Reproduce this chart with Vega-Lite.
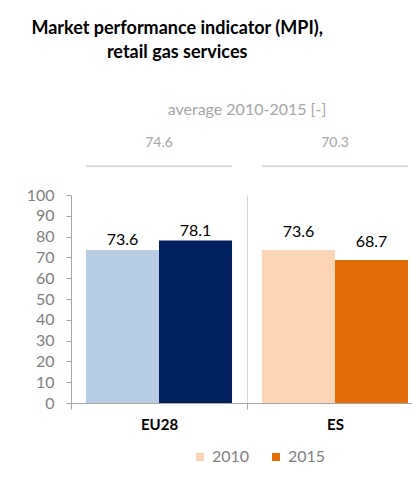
{
  "$schema": "https://vega.github.io/schema/vega-lite/v6.json",
  "background": "white",
  "padding": {"left": 26, "top": 20, "right": 0, "bottom": 5},
  "title": {
    "text": ["Market performance indicator (MPI),", "retail gas services"],
    "font": "Lato", "fontSize": 18, "fontWeight": "bold", "color": "#000000",
    "anchor": "start", "align": "center", "dx": 151, "lineHeight": 24, "offset": 40
  },
  "spacing": 18,
  "vconcat": [
    {
      "width": 352,
      "height": 40,
      "title": {"text": "average 2010-2015 [-]", "color": "#a6a6a6", "fontSize": 16, "fontWeight": "normal", "font": "Lato", "anchor": "middle", "offset": 11},
      "data": {"values": [
        {"country": "EU28", "avg": 74.6},
        {"country": "ES", "avg": 70.3}
      ]},
      "encoding": {
        "x": {"field": "country", "type": "nominal", "sort": ["EU28", "ES"], "axis": null, "scale": {"paddingInner": 0, "paddingOuter": 0}}
      },
      "layer": [
        {
          "mark": {"type": "text", "fontSize": 14, "color": "#a6a6a6", "font": "Lato", "baseline": "middle"},
          "encoding": {
            "text": {"field": "avg", "type": "quantitative", "format": ".1f"},
            "y": {"datum": 0.65, "type": "quantitative", "scale": {"domain": [0, 1]}, "axis": null}
          }
        },
        {
          "mark": {"type": "tick", "orient": "horizontal", "size": 146, "thickness": 2, "color": "#d9d9d9", "opacity": 1},
          "encoding": {
            "y": {"datum": 0.07, "type": "quantitative", "scale": {"domain": [0, 1]}, "axis": null}
          }
        }
      ]
    },
    {
      "width": 352,
      "height": 208,
      "data": {"values": [
        {"country": "EU28", "year": "2010", "series": "EU28 2010", "value": 73.6},
        {"country": "EU28", "year": "2015", "series": "EU28 2015", "value": 78.1},
        {"country": "ES", "year": "2010", "series": "ES 2010", "value": 73.6},
        {"country": "ES", "year": "2015", "series": "ES 2015", "value": 68.7}
      ]},
      "encoding": {
        "x": {
          "field": "country", "type": "nominal", "sort": ["EU28", "ES"],
          "scale": {"paddingInner": 0, "paddingOuter": 0},
          "axis": {"title": null, "labelAngle": 0, "tickBand": "extent", "grid": true, "gridColor": "#d9d9d9", "domainColor": "#a6a6a6", "tickColor": "#a6a6a6", "tickSize": 6, "labelFont": "Lato", "labelFontSize": 15, "labelFontWeight": "bold", "labelColor": "#000000", "labelPadding": 8}
        },
        "xOffset": {"field": "year", "type": "nominal", "scale": {"paddingInner": 0, "paddingOuter": 0.205}},
        "y": {
          "field": "value", "type": "quantitative",
          "scale": {"domain": [0, 100]},
          "axis": {"title": null, "values": [0, 10, 20, 30, 40, 50, 60, 70, 80, 90, 100], "grid": false, "tickSize": 5, "labelPadding": 12, "labelColor": "#7f7f7f", "labelFont": "Lato", "labelFontSize": 16, "domainColor": "#a6a6a6", "tickColor": "#a6a6a6"}
        }
      },
      "layer": [
        {
          "mark": {"type": "bar"},
          "encoding": {
            "color": {
              "field": "series", "type": "nominal",
              "scale": {"domain": ["ES 2010", "ES 2015", "EU28 2010", "EU28 2015"], "range": ["#fbd5b5", "#e36c09", "#b8cce4", "#002060"]},
              "legend": {"values": ["ES 2010", "ES 2015"], "labelExpr": "slice(datum.label, -4)", "title": null, "orient": "none", "legendX": 121, "legendY": 320, "direction": "horizontal", "symbolType": "square", "symbolSize": 64, "symbolStrokeWidth": 0, "labelFont": "Lato", "labelFontSize": 16, "labelColor": "#7f7f7f", "labelOffset": 4, "columnPadding": 18}
            }
          }
        },
        {
          "transform": [{"filter": "datum.country == 'EU28'"}],
          "mark": {"type": "text", "baseline": "bottom", "dy": -2, "font": "Lato", "fontSize": 16, "color": "#000000"},
          "encoding": {"text": {"field": "value", "type": "quantitative", "format": ".1f"}}
        },
        {
          "transform": [{"filter": "datum.country == 'ES'"}],
          "mark": {"type": "text", "baseline": "bottom", "dy": -10, "font": "Lato", "fontSize": 16, "color": "#000000"},
          "encoding": {"text": {"field": "value", "type": "quantitative", "format": ".1f"}}
        }
      ]
    }
  ],
  "config": {
    "font": "Lato",
    "view": {"stroke": null},
    "axis": {"domainWidth": 1, "tickWidth": 1}
  }
}
